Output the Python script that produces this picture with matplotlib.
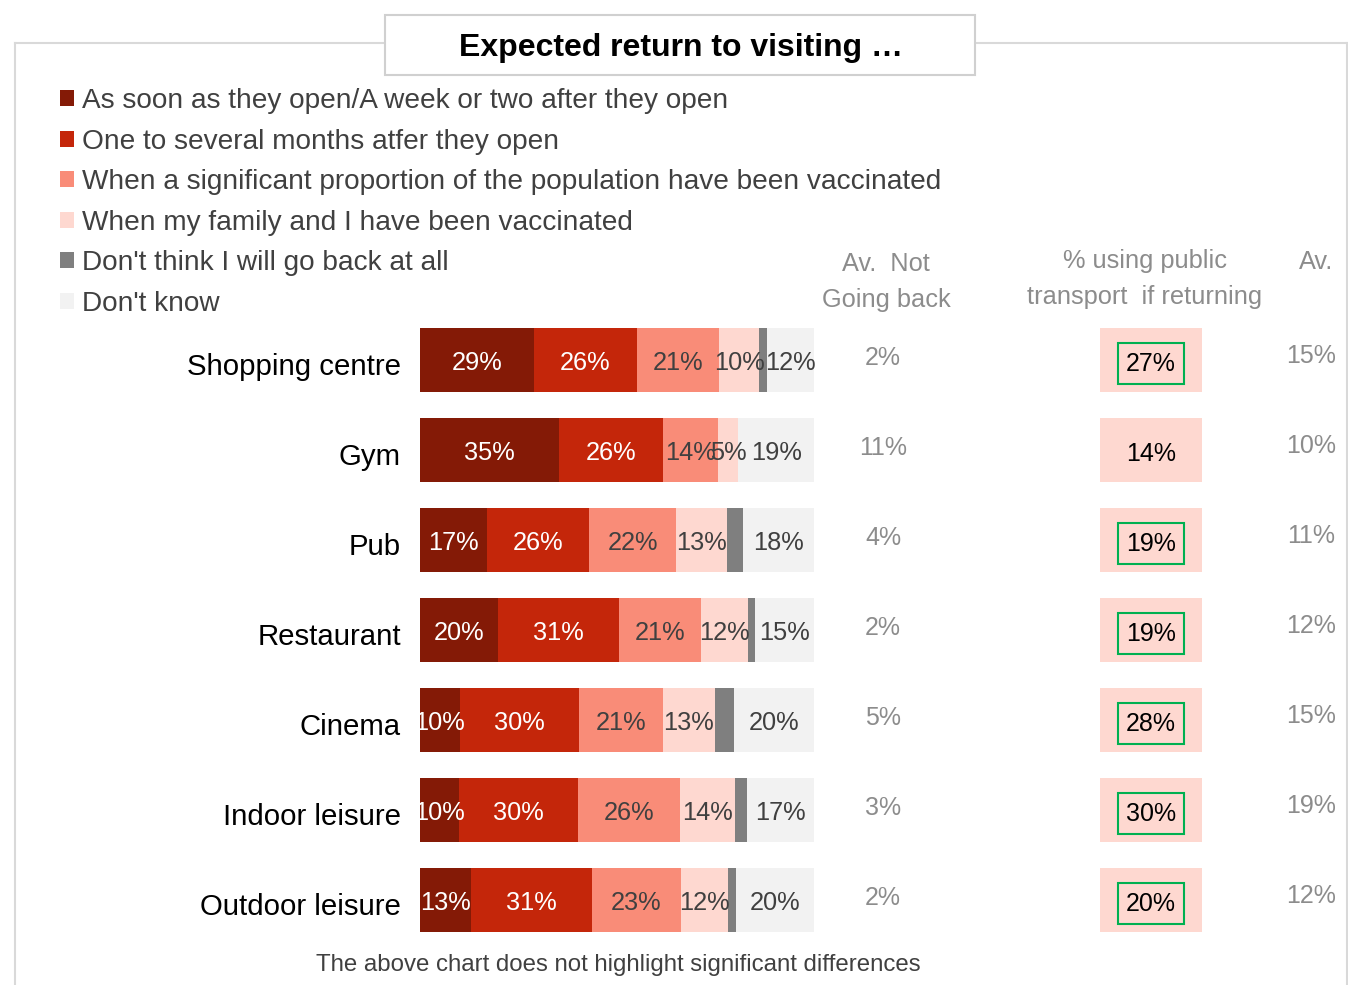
import matplotlib
matplotlib.use("Agg")
import matplotlib.pyplot as plt
from matplotlib.patches import Patch, Rectangle
import matplotlib.transforms as mtransforms
import numpy as np

plt.rcParams['font.family'] = ['Liberation Sans', 'DejaVu Sans']

# ---------------- data ----------------
categories = ["Shopping centre", "Gym", "Pub", "Restaurant", "Cinema",
              "Indoor leisure", "Outdoor leisure"]
series_names = ["As soon as they open/A week or two after they open",
                "One to several months atfer they open",
                "When a significant proportion of the population have been vaccinated",
                "When my family and I have been vaccinated",
                "Don't think I will go back at all",
                "Don't know"]
asap = [29, 35, 17, 20, 10, 10, 13]
months = [26, 26, 26, 31, 30, 30, 31]
sig_vacc = [21, 14, 22, 21, 21, 26, 23]
family_vacc = [10, 5, 13, 12, 13, 14, 12]
not_back = [2, 0, 4, 2, 5, 3, 2]
dont_know = [12, 19, 18, 15, 20, 17, 20]
av_not_going_back = [2, 11, 4, 2, 5, 3, 2]
public_transport = [27, 14, 19, 19, 28, 30, 20]
pt_highlight = [True, False, True, True, True, True, True]
av_col = [15, 10, 11, 12, 15, 19, 12]

colors = ["#841A06", "#C4260A", "#F98C78", "#FED8D0", "#7F7F7F", "#F2F2F2"]
label_colors = ["white", "white", "#404040", "#404040", None, "#404040"]

W, H = 1348, 985
fig = plt.figure(figsize=(W / 100, H / 100), dpi=100)

def fx(px):
    return px / W

def fy(py):
    return 1 - py / H

# ---------------- frame ----------------
frame_col = "#D9D9D9"
fig.add_artist(plt.Line2D([fx(15), fx(1347)], [fy(43), fy(43)], color=frame_col, lw=1.5))
fig.add_artist(plt.Line2D([fx(15), fx(15)], [fy(43), fy(985)], color=frame_col, lw=1.5))
fig.add_artist(plt.Line2D([fx(1347), fx(1347)], [fy(43), fy(985)], color=frame_col, lw=1.5))
fig.add_artist(Rectangle((fx(385), fy(75)), fx(975) - fx(385), fy(15) - fy(75),
                         facecolor="white", edgecolor="#D0D0D0", lw=1.5,
                         transform=fig.transFigure, zorder=3))
fig.text(fx(681), fy(48), "Expected return to visiting …", ha="center", va="center",
         fontsize=23, fontweight="bold", color="black", zorder=4)

# ---------------- main bars ----------------
top_px, bot_px = 315, 945
ax = fig.add_axes([fx(420), fy(bot_px), fx(814) - fx(420), fy(top_px) - fy(bot_px)])
series = [asap, months, sig_vacc, family_vacc, not_back, dont_know]
data = np.array(series, dtype=float)
totals = data.sum(axis=0)
scaled = data / totals * 100
y = np.arange(len(categories))
bar_h = 64 / 90
left = np.zeros(len(categories))
handles = []
for i in range(len(series)):
    ax.barh(y, scaled[i], left=left, height=bar_h, color=colors[i], lw=0)
    handles.append(Patch(facecolor=colors[i], label=series_names[i]))
    if label_colors[i] is not None:
        for j in range(len(categories)):
            v = series[i][j]
            if v > 0:
                ax.text(left[j] + scaled[i][j] / 2, y[j] + 0.035, f"{v}%", ha="center",
                        va="center", fontsize=18.3, color=label_colors[i])
    left += scaled[i]
ax.set_xlim(0, 100)
ax.set_ylim(len(categories) - 0.5, -0.5)
ax.axis("off")

# category labels
trans_cat = mtransforms.blended_transform_factory(fig.transFigure, ax.transData)
for j, c in enumerate(categories):
    fig.text(fx(401), 0, c, transform=trans_cat, ha="right", va="center",
             fontsize=21.2, color="black").set_y(y[j] + 0.08)

# Av. Not going back column
for j, v in enumerate(av_not_going_back):
    t = fig.text(fx(883), 0, f"{v}%", transform=trans_cat, ha="center", va="center",
                 fontsize=18, color="#8C8C8C")
    t.set_y(y[j] - 0.02)

# public transport column
ax2 = fig.add_axes([fx(1100), fy(bot_px), fx(1202) - fx(1100), fy(top_px) - fy(bot_px)])
ax2.barh(y, [1] * len(y), height=bar_h, color="#FED8D0", lw=0)
ax2.set_xlim(0, 1)
ax2.set_ylim(len(categories) - 0.5, -0.5)
ax2.axis("off")
for j, v in enumerate(public_transport):
    kw = {}
    if pt_highlight[j]:
        kw["bbox"] = dict(boxstyle="square,pad=0.33", facecolor="none",
                          edgecolor="#00B050", lw=1.5)
    ax2.text(0.5, y[j] + 0.04, f"{v}%", ha="center", va="center", fontsize=18,
             color="black", **kw)

# Av. column
for j, v in enumerate(av_col):
    t = fig.text(fx(1311), 0, f"{v}%", transform=trans_cat, ha="center", va="center",
                 fontsize=18, color="#8C8C8C")
    t.set_y(y[j] - 0.04)

# headers
hdr_col = "#8C8C8C"
fig.text(fx(886), fy(282), "Av.  Not\nGoing back", ha="center", va="center",
         fontsize=18.3, color=hdr_col, linespacing=1.6)
fig.text(fx(1145), fy(279), "% using public\ntransport  if returning", ha="center",
         va="center", fontsize=18.3, color=hdr_col, linespacing=1.6)
fig.text(fx(1316), fy(262), "Av.", ha="center", va="center", fontsize=18.3, color=hdr_col)

# legend
fig.legend(handles=handles, loc="upper left", bbox_to_anchor=(fx(60), fy(88)),
           frameon=False, fontsize=20.2, labelcolor="#404040", handlelength=0.5,
           handleheight=0.5, handletextpad=0.3, labelspacing=0.52, borderpad=0,
           borderaxespad=0)

# footnote
fig.text(fx(618), fy(965), "The above chart does not highlight significant differences",
         ha="center", va="center", fontsize=17.3, color="#404040")

fig.savefig("out.png", dpi=100, facecolor="white")
